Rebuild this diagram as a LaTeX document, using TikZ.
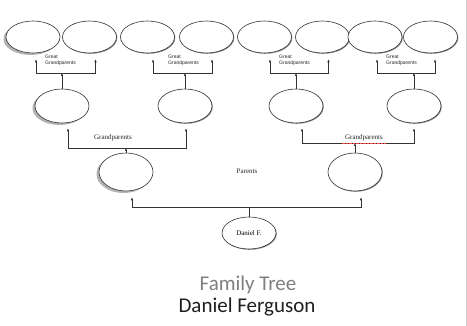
\documentclass[tikz,border=0pt]{standalone}
\usepackage{fontspec}
\setmainfont{Liberation Serif}
\newfontfamily\titlefont{Carlito}
\newfontfamily\notefont{Liberation Sans}
\usepackage{tikz}
\usetikzlibrary{positioning, calc, shapes.geometric, shadows, arrows.meta}
\definecolor{ink}{HTML}{333333}
\definecolor{pageedge}{HTML}{CFCFCF}

\begin{document}
\begin{tikzpicture}[x=1pt, y=-1pt,
  pers/.style={ellipse, draw=ink, line width=0.6pt, fill=white, minimum width=54pt,
               minimum height=32pt, inner sep=0pt, font=\fontsize{7}{8}\selectfont},
  shl/.style={drop shadow={shadow xshift=-2.5pt, shadow yshift=-2pt, fill=black!30, opacity=1}},
  shr/.style={drop shadow={shadow xshift=0.8pt, shadow yshift=-0.8pt, fill=black!45, opacity=1}},
  arr/.style={draw=ink, line width=0.6pt, -{Latex[length=3pt,width=2.6pt]}},
  ln/.style={draw=ink, line width=0.6pt},
  gnote/.style={font=\notefont\fontsize{5}{6}\selectfont, text=black!85, align=left,
                anchor=north west, inner sep=0pt},
  note/.style={font=\fontsize{7}{8}\selectfont, text=black!85},
  ttl/.style={font=\titlefont\fontsize{21}{23}\selectfont}
]
  \useasboundingbox (0,0) rectangle (467,326);
  \fill[white] (0,0) rectangle (467,326);
  \draw[pageedge, line width=0.8pt] (466,0) -- (466,326);

  % great grandparents
  \node[pers, shl] (gg1) at (33,37) {};
  \node[pers, shr] (gg2) at (89.5,37) {};
  \node[pers, shr] (gg3) at (147.5,37) {};
  \node[pers, shr] (gg4) at (206.5,37) {};
  \node[pers, shr] (gg5) at (264.5,37) {};
  \node[pers, shr] (gg6) at (322.5,37) {};
  \node[pers, shr] (gg7) at (375,37) {};
  \node[pers, shr] (gg8) at (430.5,37) {};

  % grandparents
  \node[pers, shl, minimum height=34pt] (g1) at (62,106) {};
  \node[pers, shr, minimum height=34pt] (g2) at (185,106) {};
  \node[pers, shr, minimum height=34pt] (g3) at (296,106) {};
  \node[pers, shr, minimum height=34pt] (g4) at (414,106) {};

  % parents and child
  \node[pers, shl, minimum height=38pt] (p1) at (126,172) {};
  \node[pers, shr, minimum height=38pt] (p2) at (355,172) {};
  \node[pers, shr] (me) at (249,233) {Daniel F.};

  \coordinate (k1) at (g1.north |- 0,73);
  \coordinate (k2) at (g2.north |- 0,73);
  \coordinate (k3) at (g3.north |- 0,73);
  \coordinate (k4) at (g4.north |- 0,73);
  \coordinate (k5) at (p1.north |- 0,148);
  \coordinate (k6) at (p2.north |- 0,143);
  \coordinate (k7) at (me.north |- 0,207);

  \draw[arr] (g1.north) -- (k1);
  \draw[arr] (k1) -| ([xshift=3pt, yshift=-6pt]gg1.south);
  \draw[arr] (k1) -| ([xshift=6pt, yshift=-6pt]gg2.south);
  \draw[arr] (g2.north) -- (k2);
  \draw[arr] (k2) -| ([xshift=5.5pt, yshift=-6pt]gg3.south);
  \draw[arr] (k2) -| ([xshift=5.5pt, yshift=-6pt]gg4.south);
  \draw[arr] (g3.north) -- (k3);
  \draw[arr] (k3) -| ([xshift=5.5pt, yshift=-6pt]gg5.south);
  \draw[arr] (k3) -| ([xshift=6pt, yshift=-6pt]gg6.south);
  \draw[arr] (g4.north) -- (k4);
  \draw[arr] (k4) -| ([xshift=2pt, yshift=-6pt]gg7.south);
  \draw[arr] (k4) -| ([xshift=4.5pt, yshift=-6pt]gg8.south);

  \draw[arr] (p1.north) -- (k5);
  \draw[arr] (k5) -| ([xshift=6pt, yshift=-5pt]g1.south);
  \draw[arr] (k5) -| ([xshift=1pt, yshift=-5pt]g2.south);
  \draw[arr] (p2.north) -- (k6);
  \draw[arr] (k6) -| ([xshift=6pt, yshift=-5pt]g3.south);
  \draw[arr] (k6) -| ([yshift=-5pt]g4.south);

  \draw[ln] (me.north) -- (k7);
  \draw[arr] (k7) -| ([xshift=6pt, yshift=-6pt]p1.south);
  \draw[arr] (k7) -| ([xshift=6pt, yshift=-6pt]p2.south);

  \node[gnote] (t1) at (45,55) {Great\\Grandparents};
  \node[gnote] (t2) at (168,55) {Great\\Grandparents};
  \node[gnote] (t3) at (279,55) {Great\\Grandparents};
  \node[gnote] (t4) at (386,55) {Great\\Grandparents};
  \node[note] (t5) at (113,138) {Grandparents};
  \node[note] (t6) at (364,138) {Grandparents};
  \draw[red!70, line width=0.4pt, densely dotted] ([yshift=1.5pt]t6.south west) -- ([yshift=1.5pt]t6.south east);
  \node[note] (t7) at (247,171) {Parents};

  \node[ttl, text=black!50] (fam) at (248,285) {Family Tree};
  \node[ttl, text=black!88] (nm) at (247,307) {Daniel Ferguson};

\end{tikzpicture}
\end{document}
